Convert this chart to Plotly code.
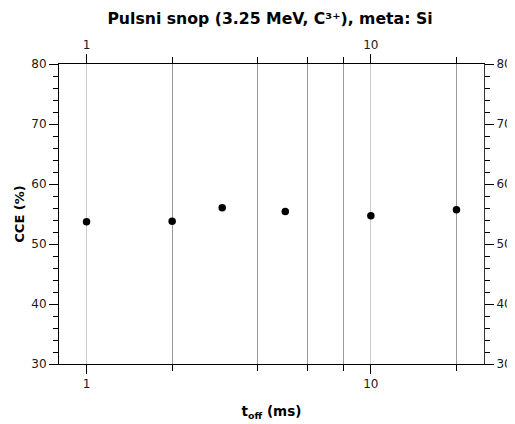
import plotly.graph_objects as go

t_off = [1, 2, 3, 5, 10, 20]
cce = [53.7, 53.8, 56.05, 55.4, 54.7, 55.7]

x_major = [1, 10]
x_major_labels = ["1", "10"]
x_minor = [2, 4, 6, 8, 20]
y_major = [30, 40, 50, 60, 70, 80]
y_minor = [32, 34, 36, 38, 42, 44, 46, 48, 52, 54, 56, 58, 62, 64, 66, 68, 72, 74, 76, 78]

FONT = "DejaVu Sans"
TICKFONT = dict(family=FONT, size=12, color="#1a1a1a")

# page body has an 8px default margin, so the figure is sized to fit the window
W, H = 507, 416
OFF = 8

fig = go.Figure()
fig.add_trace(go.Scatter(x=t_off, y=cce, mode="markers",
                         marker=dict(color="black", size=7.5), showlegend=False))
fig.add_trace(go.Scatter(x=t_off, y=cce, mode="markers", xaxis="x2", yaxis="y2",
                         marker=dict(opacity=0), hoverinfo="skip", showlegend=False))

xr = [-0.0969, 1.3979]
common_x = dict(type="log", range=xr, tickmode="array", tickvals=x_major, ticktext=x_major_labels,
                ticks="outside", ticklen=9, tickcolor="black", linecolor="black", linewidth=1,
                showline=True, zeroline=False, automargin=False, tickfont=TICKFONT)
common_y = dict(range=[30, 80], tickmode="array", tickvals=y_major,
                ticks="outside", ticklen=9, tickcolor="black", linewidth=1,
                showline=True, zeroline=False, showgrid=False, automargin=False,
                minor=dict(tickmode="array", tickvals=y_minor,
                           ticks="outside", ticklen=5, tickcolor="black", showgrid=False),
                tickfont=TICKFONT)

fig.update_layout(
    width=W, height=H,
    margin=dict(l=59 - OFF, r=31, t=64 - OFF, b=60),
    paper_bgcolor="white", plot_bgcolor="white",
    title=dict(text="<b>Pulsni snop (3.25 MeV, C³⁺), meta: Si</b>",
               x=(270 - OFF) / W, xanchor="center", xref="container",
               y=1 - (19 - OFF) / H, yanchor="middle", yref="container",
               font=dict(family=FONT, size=15.7, color="black")),
    xaxis=dict(**common_x, showgrid=True, gridcolor="#cccccc", gridwidth=1,
               minor=dict(tickmode="array", tickvals=x_minor, ticks="outside", ticklen=6,
                          tickcolor="black", showgrid=True, gridcolor="#999999", gridwidth=1),
               title=dict(text="<b>t<sub>off</sub> (ms)</b>", standoff=16,
                          font=dict(family=FONT, size=13.5, color="black"))),
    xaxis2=dict(**common_x, overlaying="x", side="top", anchor="y", showgrid=False,
                minor=dict(tickmode="array", tickvals=x_minor, ticks="outside", ticklen=6,
                           tickcolor="black", showgrid=False)),
    yaxis=dict(**common_y, linecolor="black",
               title=dict(text="<b>CCE (%)</b>", standoff=3,
                          font=dict(family=FONT, size=13, color="black"))),
    yaxis2=dict(**common_y, linecolor="#333333", overlaying="y", side="right", anchor="x",
                ticklabelstandoff=0),
)

fig.write_html("out.html")
